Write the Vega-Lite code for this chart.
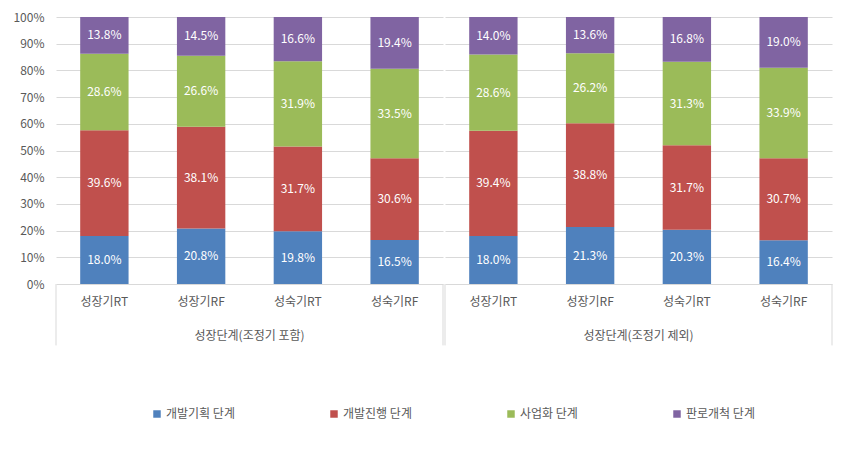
{
  "$schema": "https://vega.github.io/schema/vega-lite/v6.json",
  "padding": {"left": 12, "top": 11, "right": 10, "bottom": 10},
  "config": {
    "font": "Noto Sans CJK KR",
    "view": {"stroke": null},
    "axis": {"labelFont": "Noto Sans CJK KR", "labelFontSize": 12, "labelColor": "#595959", "title": null},
    "axisY": {"labelOverlap": false, "gridColor": "#d9d9d9", "ticks": false, "domain": false, "labelPadding": 11}
  },
  "data": {
    "values": [
      {"group": "성장단계(조정기 포함)", "stage": "성장기RT", "phase": "개발기획 단계", "value": 18.0},
      {"group": "성장단계(조정기 포함)", "stage": "성장기RT", "phase": "개발진행 단계", "value": 39.6},
      {"group": "성장단계(조정기 포함)", "stage": "성장기RT", "phase": "사업화 단계", "value": 28.6},
      {"group": "성장단계(조정기 포함)", "stage": "성장기RT", "phase": "판로개척 단계", "value": 13.8},
      {"group": "성장단계(조정기 포함)", "stage": "성장기RF", "phase": "개발기획 단계", "value": 20.8},
      {"group": "성장단계(조정기 포함)", "stage": "성장기RF", "phase": "개발진행 단계", "value": 38.1},
      {"group": "성장단계(조정기 포함)", "stage": "성장기RF", "phase": "사업화 단계", "value": 26.6},
      {"group": "성장단계(조정기 포함)", "stage": "성장기RF", "phase": "판로개척 단계", "value": 14.5},
      {"group": "성장단계(조정기 포함)", "stage": "성숙기RT", "phase": "개발기획 단계", "value": 19.8},
      {"group": "성장단계(조정기 포함)", "stage": "성숙기RT", "phase": "개발진행 단계", "value": 31.7},
      {"group": "성장단계(조정기 포함)", "stage": "성숙기RT", "phase": "사업화 단계", "value": 31.9},
      {"group": "성장단계(조정기 포함)", "stage": "성숙기RT", "phase": "판로개척 단계", "value": 16.6},
      {"group": "성장단계(조정기 포함)", "stage": "성숙기RF", "phase": "개발기획 단계", "value": 16.5},
      {"group": "성장단계(조정기 포함)", "stage": "성숙기RF", "phase": "개발진행 단계", "value": 30.6},
      {"group": "성장단계(조정기 포함)", "stage": "성숙기RF", "phase": "사업화 단계", "value": 33.5},
      {"group": "성장단계(조정기 포함)", "stage": "성숙기RF", "phase": "판로개척 단계", "value": 19.4},
      {"group": "성장단계(조정기 제외)", "stage": "성장기RT", "phase": "개발기획 단계", "value": 18.0},
      {"group": "성장단계(조정기 제외)", "stage": "성장기RT", "phase": "개발진행 단계", "value": 39.4},
      {"group": "성장단계(조정기 제외)", "stage": "성장기RT", "phase": "사업화 단계", "value": 28.6},
      {"group": "성장단계(조정기 제외)", "stage": "성장기RT", "phase": "판로개척 단계", "value": 14.0},
      {"group": "성장단계(조정기 제외)", "stage": "성장기RF", "phase": "개발기획 단계", "value": 21.3},
      {"group": "성장단계(조정기 제외)", "stage": "성장기RF", "phase": "개발진행 단계", "value": 38.8},
      {"group": "성장단계(조정기 제외)", "stage": "성장기RF", "phase": "사업화 단계", "value": 26.2},
      {"group": "성장단계(조정기 제외)", "stage": "성장기RF", "phase": "판로개척 단계", "value": 13.6},
      {"group": "성장단계(조정기 제외)", "stage": "성숙기RT", "phase": "개발기획 단계", "value": 20.3},
      {"group": "성장단계(조정기 제외)", "stage": "성숙기RT", "phase": "개발진행 단계", "value": 31.7},
      {"group": "성장단계(조정기 제외)", "stage": "성숙기RT", "phase": "사업화 단계", "value": 31.3},
      {"group": "성장단계(조정기 제외)", "stage": "성숙기RT", "phase": "판로개척 단계", "value": 16.8},
      {"group": "성장단계(조정기 제외)", "stage": "성숙기RF", "phase": "개발기획 단계", "value": 16.4},
      {"group": "성장단계(조정기 제외)", "stage": "성숙기RF", "phase": "개발진행 단계", "value": 30.7},
      {"group": "성장단계(조정기 제외)", "stage": "성숙기RF", "phase": "사업화 단계", "value": 33.9},
      {"group": "성장단계(조정기 제외)", "stage": "성숙기RF", "phase": "판로개척 단계", "value": 19.0}
    ]
  },
  "spacing": 0,
  "facet": {
    "column": {
      "field": "group",
      "type": "nominal",
      "sort": ["성장단계(조정기 포함)", "성장단계(조정기 제외)"],
      "header": {
        "title": null,
        "labelOrient": "bottom",
        "labelFont": "Noto Sans CJK KR",
        "labelFontSize": 12,
        "labelColor": "#595959",
        "labelPadding": -15
      }
    }
  },
  "spec": {
    "width": 387,
    "height": 267,
    "layer": [
      {
        "mark": {"type": "bar", "width": {"band": 0.5}},
        "encoding": {
          "x": {
            "field": "stage",
            "type": "nominal",
            "sort": ["성장기RT", "성장기RF", "성숙기RT", "성숙기RF"],
            "scale": {"paddingInner": 0, "paddingOuter": 0},
            "axis": null
          },
          "y": {
            "field": "value",
            "type": "quantitative",
            "stack": "normalize",
            "scale": {"domain": [0, 1], "nice": false},
            "axis": {"values": [0, 0.1, 0.2, 0.3, 0.4, 0.5, 0.6, 0.7, 0.8, 0.9, 1], "format": ".0%"}
          },
          "color": {
            "field": "phase",
            "type": "nominal",
            "scale": {
              "domain": ["개발기획 단계", "개발진행 단계", "사업화 단계", "판로개척 단계"],
              "range": ["#4f81bd", "#c0504d", "#9bbb59", "#8064a2"]
            },
            "legend": {
              "title": null,
              "orient": "none",
              "direction": "horizontal",
              "legendX": 95,
              "legendY": 391,
              "symbolType": "square",
              "symbolSize": 56,
              "symbolStrokeWidth": 0,
              "labelFontSize": 12,
              "labelColor": "#595959",
              "labelFont": "Noto Sans CJK KR",
              "labelOffset": 3,
              "columnPadding": 93
            }
          },
          "order": {"field": "phase", "type": "nominal", "sort": "ascending"}
        }
      },
      {
        "transform": [{"calculate": "format(datum.value, '.1f') + '%'", "as": "label"}],
        "mark": {"type": "text", "color": "white", "fontSize": 12},
        "encoding": {
          "x": {"field": "stage", "type": "nominal", "sort": ["성장기RT", "성장기RF", "성숙기RT", "성숙기RF"], "axis": null},
          "y": {
            "field": "value",
            "type": "quantitative",
            "stack": "normalize",
            "bandPosition": 0.5,
            "axis": {"values": [0, 0.1, 0.2, 0.3, 0.4, 0.5, 0.6, 0.7, 0.8, 0.9, 1], "format": ".0%"}
          },
          "detail": {"field": "phase", "type": "nominal"},
          "order": {"field": "phase", "type": "nominal", "sort": "ascending"},
          "text": {"field": "label", "type": "nominal"}
        }
      },
      {
        "transform": [{"filter": "datum.phase === '개발기획 단계'"}],
        "mark": {"type": "text", "color": "#595959", "fontSize": 12},
        "encoding": {
          "x": {"field": "stage", "type": "nominal", "sort": ["성장기RT", "성장기RF", "성숙기RT", "성숙기RF"], "axis": null},
          "y": {"datum": -0.068, "axis": {"values": [0, 0.1, 0.2, 0.3, 0.4, 0.5, 0.6, 0.7, 0.8, 0.9, 1], "format": ".0%"}},
          "text": {"field": "stage", "type": "nominal"}
        }
      },
      {
        "transform": [{"filter": "datum.stage === '성장기RT' && datum.phase === '개발기획 단계'"}],
        "mark": {"type": "rule", "color": "#d9d9d9"},
        "encoding": {
          "x": {"field": "stage", "type": "nominal", "sort": ["성장기RT", "성장기RF", "성숙기RT", "성숙기RF"], "bandPosition": 0, "axis": null},
          "y": {"datum": 0, "axis": {"values": [0, 0.1, 0.2, 0.3, 0.4, 0.5, 0.6, 0.7, 0.8, 0.9, 1], "format": ".0%"}},
          "y2": {"datum": -0.23}
        }
      },
      {
        "transform": [{"filter": "datum.stage === '성숙기RF' && datum.phase === '개발기획 단계'"}],
        "mark": {"type": "rule", "color": "#d9d9d9"},
        "encoding": {
          "x": {"field": "stage", "type": "nominal", "sort": ["성장기RT", "성장기RF", "성숙기RT", "성숙기RF"], "bandPosition": 1, "axis": null},
          "y": {"datum": 0, "axis": {"values": [0, 0.1, 0.2, 0.3, 0.4, 0.5, 0.6, 0.7, 0.8, 0.9, 1], "format": ".0%"}},
          "y2": {"datum": -0.23}
        }
      }
    ]
  }
}
